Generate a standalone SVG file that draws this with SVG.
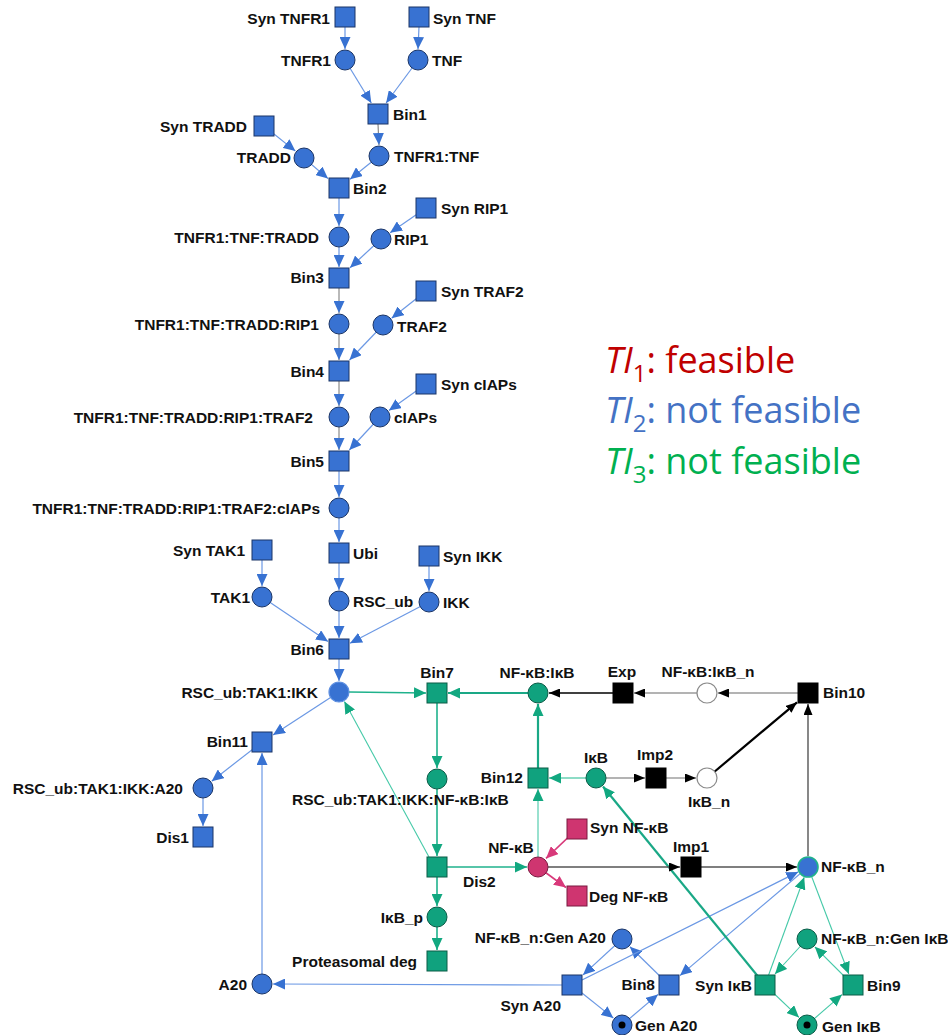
<svg xmlns="http://www.w3.org/2000/svg" width="948" height="1035" viewBox="0 0 948 1035">
<style>
  text { font-family: "Liberation Sans", Arial, sans-serif; font-weight: bold; font-size: 15.5px; fill: #111; }
  .e { text-anchor: end; }
  .m { text-anchor: middle; }
  .bl { fill: #3872d2; stroke: #1b3566; stroke-width: 1; }
  .tl { fill: #10a27e; stroke: #0a5c47; stroke-width: 1; }
  .pk { fill: #cf3570; stroke: #7a1a40; stroke-width: 1; }
  .bk { fill: #000; stroke: #000; stroke-width: 1; }
  .wh { fill: #fff; stroke: #8a8a8a; stroke-width: 1.2; }
  .dot { fill: #000; stroke: none; }
  #connectors path { fill: none; }
  .cb { stroke: #6b98e4; stroke-width: 1.2; marker-end: url(#ab); }
  .cg { stroke: #8a8a8a; stroke-width: 1.2; marker-end: url(#ab); }
  .ct { stroke: #1fb28c; stroke-width: 1.6; marker-end: url(#at); }
  .ctw { stroke: #1aa886; stroke-width: 2.2; marker-end: url(#at); }
  .ctl { stroke: #45c9a8; stroke-width: 1.1; marker-end: url(#at); }
  .ctp { stroke: #8ddcc6; stroke-width: 2.2; marker-end: url(#at); }
  .cp { stroke: #d8397a; stroke-width: 1.6; marker-end: url(#ap); }
  .ck { stroke: #000; stroke-width: 1.4; marker-end: url(#ak); }
  .ckw { stroke: #000; stroke-width: 2.2; marker-end: url(#ak); }
  .cd { stroke: #555; stroke-width: 1.4; marker-end: url(#ak); }
  .cl { stroke: #9a9a9a; stroke-width: 1.4; marker-end: url(#ak); }
  .leg { font-family: "Open Sans", "Noto Sans", sans-serif; font-weight: normal; font-size: 36px; }
</style>
<defs>
  <marker id="ab" viewBox="0 0 12 11" refX="12" refY="5.5" markerWidth="12" markerHeight="11" markerUnits="userSpaceOnUse" orient="auto"><path d="M0,0L12,5.5L0,11z" fill="#3872d2"/></marker>
  <marker id="at" viewBox="0 0 12 11" refX="12" refY="5.5" markerWidth="12" markerHeight="11" markerUnits="userSpaceOnUse" orient="auto"><path d="M0,0L12,5.5L0,11z" fill="#12a880"/></marker>
  <marker id="ap" viewBox="0 0 12 11" refX="12" refY="5.5" markerWidth="12" markerHeight="11" markerUnits="userSpaceOnUse" orient="auto"><path d="M0,0L12,5.5L0,11z" fill="#d8397a"/></marker>
  <marker id="ak" viewBox="0 0 11 9" refX="11" refY="4.5" markerWidth="11" markerHeight="9" markerUnits="userSpaceOnUse" orient="auto"><path d="M0,0L11,4.5L0,9z" fill="#000"/></marker>
</defs>

<!-- arcs of the net -->
<g id="connectors">
  <!-- receptor assembly (blue) -->
  <path class="cb" d="M345,27L345,49"/>
  <path class="cb" d="M419,27L418,49"/>
  <path class="cb" d="M345,60L371.3,103"/>
  <path class="cb" d="M418,60L386.1,103"/>
  <path class="cg" d="M378,124L379,145"/>
  <path class="cb" d="M264,126L295.4,151.1"/>
  <path class="cb" d="M304,158L328,178.6"/>
  <path class="cb" d="M379,156L350,179.2"/>
  <path class="cb" d="M339,198L339,226"/>
  <path class="cb" d="M426,208L390.1,232.8"/>
  <path class="cb" d="M339,247L339,267"/>
  <path class="cb" d="M381,239L350,267.8"/>
  <path class="cg" d="M339,288L339,313"/>
  <path class="cb" d="M426,291L391.6,318.2"/>
  <path class="cg" d="M339,334L339,360"/>
  <path class="cb" d="M383,325L349.5,360"/>
  <path class="cg" d="M339,381L339,406"/>
  <path class="cb" d="M426,384L388.9,410.6"/>
  <path class="cg" d="M339,427L339,450"/>
  <path class="cb" d="M380,417L349.3,450"/>
  <path class="cb" d="M339,471L339,497"/>
  <path class="cb" d="M339,518L339,542"/>
  <path class="cb" d="M339,563L339,590"/>
  <path class="cb" d="M262,560L262,586"/>
  <path class="cb" d="M429,566L429,591"/>
  <path class="cb" d="M262,597L328,641.6"/>
  <path class="cb" d="M339,611L339,638"/>
  <path class="cb" d="M429,602L350,643.3"/>
  <path class="cb" d="M339,659L339,681"/>
  <!-- A20 feedback (blue) -->
  <path class="cb" d="M339,692L273,734.9"/>
  <path class="cb" d="M262,742L211.7,781.2"/>
  <path class="cb" d="M203,798L203,826"/>
  <path class="cb" d="M262,974L262,753"/>
  <path class="cb" d="M562,985L273,984"/>
  <path class="cb" d="M572,985L613.4,1018.1"/>
  <path class="cb" d="M622,1025L658,994.4"/>
  <path class="cb" d="M669,985L629.9,946.7"/>
  <path class="cb" d="M622,939L583,974.9"/>
  <path class="cb" d="M572,985L798.2,871.9"/>
  <path class="cb" d="M808,867L680,975.6"/>
  <!-- IκB / NF-κB module (teal) -->
  <path class="ct" d="M349,692L426,693"/>
  <path class="ctw" d="M528,693L448,693"/>
  <path class="ct" d="M437,703L437,768"/>
  <path class="ct" d="M437,789L437,856"/>
  <path class="ctl" d="M429,857L344.4,701.6"/>
  <path class="ct" d="M447,867L527,867"/>
  <path class="ct" d="M437,877L437,906"/>
  <path class="ct" d="M437,927L437,950"/>
  <path class="ctl" d="M538,857L538,789"/>
  <path class="ctp" d="M586,778L549,778"/>
  <path class="ctw" d="M538,768L538,704"/>
  <path class="ctw" d="M765,985L603,786.5"/>
  <path class="ctl" d="M765,985L804.2,877.3"/>
  <path class="ctl" d="M808,867L848.8,974"/>
  <path class="ctl" d="M853,985L814.8,946.8"/>
  <path class="ctl" d="M807,939L775,974"/>
  <path class="ctl" d="M765,985L799,1017.4"/>
  <path class="ctl" d="M807,1025L842,994.6"/>
  <!-- NF-κB synthesis and degradation (pink) -->
  <path class="cp" d="M577,829L546,858.4"/>
  <path class="cp" d="M538,867L566,887.5"/>
  <!-- nuclear transport (black) -->
  <path class="cd" d="M548,867L680,867"/>
  <path class="cd" d="M701,867L797,867"/>
  <path class="cd" d="M808,856L808,704"/>
  <path class="cl" d="M606,778L645,778"/>
  <path class="cl" d="M666,778L696,778"/>
  <path class="ckw" d="M707,778L797,702.3"/>
  <path class="cl" d="M798,693L718,693"/>
  <path class="cl" d="M697,693L634,693"/>
  <path class="ck" d="M613,693L549,693"/>
</g>

<g id="nodes">
  <g id="n-syn-tnfr1"><rect class="bl" x="335" y="7" width="20" height="20"/><text class="e" x="330" y="24">Syn TNFR1</text></g>
  <g id="n-syn-tnf"><rect class="bl" x="409" y="7" width="20" height="20"/><text x="433" y="24">Syn TNF</text></g>
  <g id="n-tnfr1"><circle class="bl" cx="345" cy="60" r="10"/><text class="e" x="331" y="66">TNFR1</text></g>
  <g id="n-tnf"><circle class="bl" cx="418" cy="60" r="10"/><text x="432" y="66">TNF</text></g>
  <g id="n-bin1"><rect class="bl" x="368" y="104" width="20" height="20"/><text x="393" y="120">Bin1</text></g>
  <g id="n-tnfr1-tnf"><circle class="bl" cx="379" cy="156" r="10"/><text x="394" y="162">TNFR1:TNF</text></g>
  <g id="n-syn-tradd"><rect class="bl" x="254" y="116" width="20" height="20"/><text class="e" x="247" y="132">Syn TRADD</text></g>
  <g id="n-tradd"><circle class="bl" cx="304" cy="158" r="10"/><text class="e" x="291" y="163">TRADD</text></g>
  <g id="n-bin2"><rect class="bl" x="329" y="178" width="20" height="20"/><text x="353" y="194">Bin2</text></g>
  <g id="n-c3"><circle class="bl" cx="339" cy="237" r="10"/><text class="e" x="319" y="243">TNFR1:TNF:TRADD</text></g>
  <g id="n-syn-rip1"><rect class="bl" x="416" y="198" width="20" height="20"/><text x="441" y="214">Syn RIP1</text></g>
  <g id="n-rip1"><circle class="bl" cx="381" cy="239" r="10"/><text x="394" y="245">RIP1</text></g>
  <g id="n-bin3"><rect class="bl" x="329" y="268" width="20" height="20"/><text class="e" x="324" y="283">Bin3</text></g>
  <g id="n-c4"><circle class="bl" cx="339" cy="324" r="10"/><text class="e" x="319" y="330">TNFR1:TNF:TRADD:RIP1</text></g>
  <g id="n-syn-traf2"><rect class="bl" x="416" y="281" width="20" height="20"/><text x="441" y="297">Syn TRAF2</text></g>
  <g id="n-traf2"><circle class="bl" cx="383" cy="325" r="10"/><text x="397" y="332">TRAF2</text></g>
  <g id="n-bin4"><rect class="bl" x="329" y="361" width="20" height="20"/><text class="e" x="324" y="377">Bin4</text></g>
  <g id="n-c5"><circle class="bl" cx="339" cy="417" r="10"/><text class="e" x="313" y="423">TNFR1:TNF:TRADD:RIP1:TRAF2</text></g>
  <g id="n-syn-ciaps"><rect class="bl" x="416" y="374" width="20" height="20"/><text x="441" y="390">Syn cIAPs</text></g>
  <g id="n-ciaps"><circle class="bl" cx="380" cy="417" r="10"/><text x="394" y="423">cIAPs</text></g>
  <g id="n-bin5"><rect class="bl" x="329" y="451" width="20" height="20"/><text class="e" x="324" y="467">Bin5</text></g>
  <g id="n-c6"><circle class="bl" cx="339" cy="508" r="10"/><text class="e" x="320" y="514">TNFR1:TNF:TRADD:RIP1:TRAF2:cIAPs</text></g>
  <g id="n-syn-tak1"><rect class="bl" x="252" y="540" width="20" height="20"/><text class="e" x="245" y="556">Syn TAK1</text></g>
  <g id="n-ubi"><rect class="bl" x="329" y="543" width="20" height="20"/><text x="353" y="559">Ubi</text></g>
  <g id="n-syn-ikk"><rect class="bl" x="419" y="546" width="20" height="20"/><text x="443" y="562">Syn IKK</text></g>
  <g id="n-tak1"><circle class="bl" cx="262" cy="597" r="10"/><text class="e" x="250" y="603">TAK1</text></g>
  <g id="n-rsc-ub"><circle class="bl" cx="339" cy="601" r="10"/><text x="353" y="607">RSC_ub</text></g>
  <g id="n-ikk"><circle class="bl" cx="429" cy="602" r="10"/><text x="443" y="608">IKK</text></g>
  <g id="n-bin6"><rect class="bl" x="329" y="639" width="20" height="20"/><text class="e" x="324" y="655">Bin6</text></g>
  <g id="n-rsc-tak1-ikk"><circle cx="339" cy="692" r="10" fill="#3872d2" stroke="#5d8fe0" stroke-width="1.2"/><text class="e" x="318" y="698">RSC_ub:TAK1:IKK</text></g>
  <g id="n-bin7"><rect class="tl" x="427" y="683" width="20" height="20"/><text class="m" x="437" y="678">Bin7</text></g>
  <g id="n-nfkb-ikb"><circle class="tl" cx="538" cy="693" r="10"/><text class="m" x="537" y="678">NF-κB:IκB</text></g>
  <g id="n-exp"><rect class="bk" x="613" y="683" width="20" height="20"/><text class="m" x="622" y="677">Exp</text></g>
  <g id="n-nfkb-ikb-n"><circle class="wh" cx="707" cy="693" r="10"/><text class="m" x="708" y="677">NF-κB:IκB_n</text></g>
  <g id="n-bin10"><rect class="bk" x="798" y="683" width="20" height="20"/><text x="823" y="698">Bin10</text></g>
  <g id="n-bin11"><rect class="bl" x="252" y="732" width="20" height="20"/><text class="e" x="248" y="747">Bin11</text></g>
  <g id="n-rsc-a20"><circle class="bl" cx="203" cy="788" r="10"/><text class="e" x="183" y="794">RSC_ub:TAK1:IKK:A20</text></g>
  <g id="n-dis1"><rect class="bl" x="193" y="827" width="20" height="20"/><text class="e" x="189" y="843">Dis1</text></g>
  <g id="n-rsc-nfkb-ikb"><circle class="tl" cx="437" cy="779" r="10"/><text x="292" y="805">RSC_ub:TAK1:IKK:NF-κB:IκB</text></g>
  <g id="n-bin12"><rect class="tl" x="528" y="768" width="20" height="20"/><text class="e" x="523" y="783">Bin12</text></g>
  <g id="n-ikb"><circle class="tl" cx="596" cy="778" r="10"/><text class="m" x="596" y="763">IκB</text></g>
  <g id="n-imp2"><rect class="bk" x="646" y="768" width="20" height="20"/><text class="m" x="655" y="760">Imp2</text></g>
  <g id="n-ikb-n"><circle class="wh" cx="707" cy="778" r="10"/><text class="m" x="709" y="807">IκB_n</text></g>
  <g id="n-syn-nfkb"><rect class="pk" x="567" y="819" width="20" height="20"/><text x="590" y="833">Syn NF-κB</text></g>
  <g id="n-nfkb"><circle class="pk" cx="538" cy="867" r="10"/><text class="m" x="511" y="853">NF-κB</text></g>
  <g id="n-imp1"><rect class="bk" x="681" y="857" width="20" height="20"/><text class="m" x="691" y="852">Imp1</text></g>
  <g id="n-nfkb-n"><circle cx="808" cy="867" r="10" fill="#3872d2" stroke="#1fb28c" stroke-width="1.6"/><text x="821" y="872">NF-κB_n</text></g>
  <g id="n-dis2"><rect class="tl" x="427" y="857" width="20" height="20"/><text x="463" y="887">Dis2</text></g>
  <g id="n-deg-nfkb"><rect class="pk" x="567" y="886" width="20" height="20"/><text x="589" y="902">Deg NF-κB</text></g>
  <g id="n-ikb-p"><circle class="tl" cx="437" cy="917" r="10"/><text class="e" x="423" y="923">IκB_p</text></g>
  <g id="n-nfkbn-gena20"><circle class="bl" cx="622" cy="939" r="10"/><text class="e" x="606" y="943">NF-κB_n:Gen A20</text></g>
  <g id="n-prot-deg"><rect class="tl" x="427" y="951" width="20" height="20"/><text class="e" x="417" y="967">Proteasomal deg</text></g>
  <g id="n-nfkbn-genikb"><circle class="tl" cx="807" cy="939" r="10"/><text x="821" y="944">NF-κB_n:Gen IκB</text></g>
  <g id="n-a20"><circle class="bl" cx="262" cy="984" r="10"/><text class="e" x="247" y="990">A20</text></g>
  <g id="n-syn-a20"><rect class="bl" x="562" y="975" width="20" height="20"/><text class="e" x="561" y="1011">Syn A20</text></g>
  <g id="n-bin8"><rect class="bl" x="659" y="975" width="20" height="20"/><text class="e" x="655" y="990">Bin8</text></g>
  <g id="n-syn-ikb"><rect class="tl" x="755" y="975" width="20" height="20"/><text class="e" x="752" y="991">Syn IκB</text></g>
  <g id="n-bin9"><rect class="tl" x="843" y="975" width="20" height="20"/><text x="867" y="991">Bin9</text></g>
  <g id="n-gen-a20"><circle class="bl" cx="622" cy="1025" r="10" stroke-width="1.6"/><circle class="dot" cx="622" cy="1025" r="3.5"/><text x="635" y="1031">Gen A20</text></g>
  <g id="n-gen-ikb"><circle class="tl" cx="807" cy="1025" r="10" stroke-width="1.6"/><circle class="dot" cx="807" cy="1025" r="3.5"/><text x="822" y="1032">Gen IκB</text></g>
</g>

<!-- feasibility legend -->
<g id="legend">
  <text class="leg" x="605" y="373" fill="#c00000" style="fill:#c00000"><tspan font-style="italic">TI</tspan><tspan font-size="24" dy="9">1</tspan><tspan dy="-9">: feasible</tspan></text>
  <text class="leg" x="605" y="423" style="fill:#4472c4"><tspan font-style="italic">TI</tspan><tspan font-size="24" dy="9">2</tspan><tspan dy="-9">: not feasible</tspan></text>
  <text class="leg" x="605" y="474" style="fill:#00b050"><tspan font-style="italic">TI</tspan><tspan font-size="24" dy="9">3</tspan><tspan dy="-9">: not feasible</tspan></text>
</g>
</svg>
